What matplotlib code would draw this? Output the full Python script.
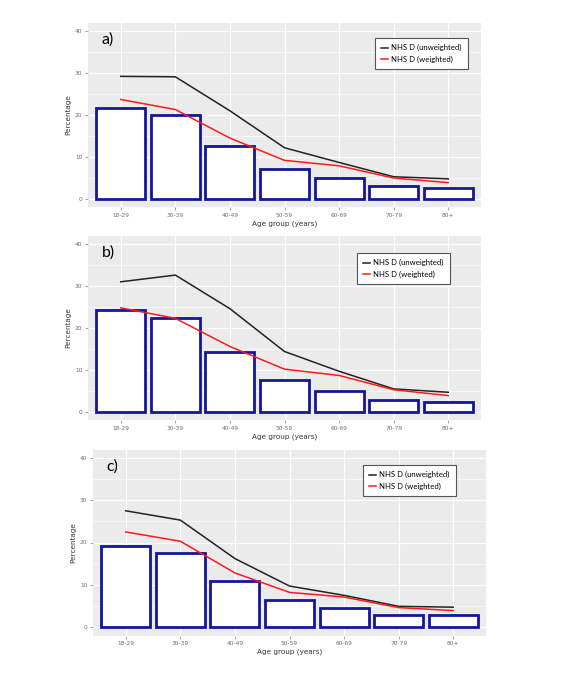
import matplotlib
matplotlib.use("Agg")
import matplotlib.pyplot as plt
from matplotlib.ticker import MultipleLocator

# age groups on the x axis
age_groups = ["18-29", "30-39", "40-49", "50-59", "60-69", "70-79", "80+"]

# panel a)
bars_a = [21.6, 20.0, 12.7, 7.1, 4.9, 3.0, 2.6]
unweighted_a = [29.2, 29.1, 21.0, 12.2, 8.7, 5.3, 4.8]
weighted_a = [23.7, 21.3, 14.5, 9.2, 7.9, 5.0, 3.9]

# panel b)
bars_b = [24.2, 22.5, 14.3, 7.7, 5.0, 2.8, 2.3]
unweighted_b = [31.0, 32.6, 24.6, 14.4, 9.7, 5.5, 4.7]
weighted_b = [24.8, 22.3, 15.6, 10.2, 8.7, 5.3, 3.9]

# panel c)
bars_c = [19.1, 17.6, 10.9, 6.3, 4.6, 2.9, 2.8]
unweighted_c = [27.5, 25.3, 16.2, 9.7, 7.5, 4.9, 4.7]
weighted_c = [22.5, 20.3, 12.8, 8.2, 7.1, 4.6, 3.9]

panels = [
    ("a)", bars_a, unweighted_a, weighted_a),
    ("b)", bars_b, unweighted_b, weighted_b),
    ("c)", bars_c, unweighted_c, weighted_c),
]

W, H = 564, 677
# axes boxes in pixels: left, top, right, bottom
boxes = [
    (88, 22.6, 481, 207.4),
    (88, 235.6, 481, 420.4),
    (93, 449.5, 486, 635.5),
]
# legend box top-left in pixels
legend_pos = [(375, 38), (357, 253), (363, 465)]

fig = plt.figure(figsize=(W / 100, H / 100), dpi=100)
fig.patch.set_facecolor("white")

for (label, bars, unw, wtd), (l, t, r, b), (lx, ly) in zip(panels, boxes, legend_pos):
    ax = fig.add_axes([l / W, 1 - b / H, (r - l) / W, (b - t) / H])
    ax.set_facecolor("#EBEBEB")
    x = list(range(1, len(age_groups) + 1))

    ax.yaxis.set_major_locator(MultipleLocator(10))
    ax.yaxis.set_minor_locator(MultipleLocator(5))
    ax.grid(which="major", color="white", linewidth=0.9)
    ax.grid(which="minor", axis="y", color="white", linewidth=0.45)
    ax.set_axisbelow(True)

    ax.bar(x, bars, width=0.9, facecolor="white", edgecolor="#15159A",
           linewidth=2.0, zorder=2)
    ln1, = ax.plot(x, unw, color="#222222", linewidth=1.1, zorder=3)
    ln2, = ax.plot(x, wtd, color="#FF1A1A", linewidth=1.1, zorder=3)

    ax.set_xlim(0.4, 7.6)
    ax.set_ylim(-2, 42)
    ax.set_xticks(x)
    ax.set_xticklabels(age_groups)
    for s in ax.spines.values():
        s.set_visible(False)
    ax.tick_params(axis="both", labelsize=4.2, colors="#7F7F7F",
                   length=2, width=0.5, pad=2, labelcolor="#6E6E6E")
    ax.tick_params(axis="y", which="minor", length=0)
    ax.set_ylabel("Percentage", fontsize=5.2, color="#333333", labelpad=3)
    ax.set_xlabel("Age group (years)", fontsize=5.2, color="#333333", labelpad=2)

    ax.text(0.035, 0.91, label, transform=ax.transAxes, fontsize=11.5,
            family="Lato", va="center", ha="left", color="black")

    leg = ax.legend([ln1, ln2], ["NHS D (unweighted)", "NHS D (weighted)"],
                    loc="upper left",
                    bbox_to_anchor=((lx - l) / (r - l), 1 - (ly - t) / (b - t)),
                    prop={"family": "Lato", "size": 5.6}, frameon=True,
                    fancybox=False, handlelength=0.9, handletextpad=0.4,
                    borderpad=0.8, labelspacing=0.6, borderaxespad=0)
    leg.get_frame().set_edgecolor("#555555")
    leg.get_frame().set_linewidth(0.8)
    leg.get_frame().set_facecolor("white")
    leg.get_frame().set_alpha(1)

fig.savefig("out.png", dpi=100, facecolor="white")
